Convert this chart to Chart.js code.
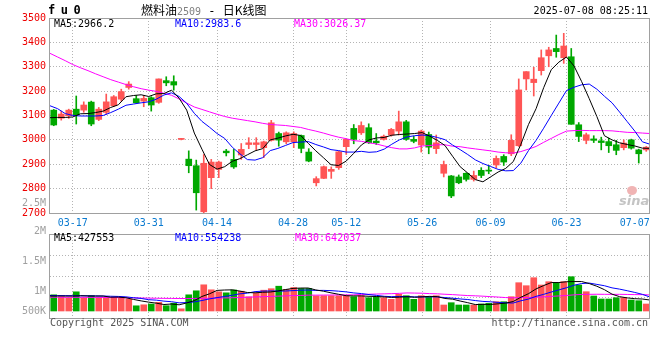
<!DOCTYPE html>
<html lang="zh-CN">
<head>
<meta charset="UTF-8" />
<title>燃料油2509 - 日K线图</title>
<style>
    body { margin: 0; background: #fff; }
    #wrap { position: relative; width: 660px; height: 360px; overflow: hidden; }
    canvas { position: absolute; left: 0; }
    #kline { top: 0; }
    #vol { top: 226px; }
    .t { position: absolute; font: 10px 'DejaVu Sans Mono', monospace; line-height: 12px; white-space: nowrap; z-index: 2; }
    .r { text-align: right; }
    .gray { color: #a0a0a0; }
</style>
</head>
<body>
<div id="wrap">
    <canvas id="kline" width="660" height="232"></canvas>
    <canvas id="vol" width="660" height="100"></canvas>

    <div class="t" style="left:48px;top:3px;font:bold 12px 'DejaVu Sans Mono',monospace;letter-spacing:5.5px;">fu0</div>
    <div class="t" style="left:141px;top:2px;font-size:12px;line-height:16px;">
        <span style="font-family:'Noto Sans CJK SC';">燃料油</span><span style="color:#808080;font-size:10px;">2509</span><span> - </span><span style="font-family:'Noto Sans CJK SC';">日K线图</span>
    </div>
    <div class="t r" style="right:12px;top:5px;">2025-07-08 08:25:11</div>

    <div class="t" style="left:54px;top:18px;color:#000;">MA5:2966.2</div>
    <div class="t" style="left:175px;top:18px;color:#0000ff;">MA10:2983.6</div>
    <div class="t" style="left:294px;top:18px;color:#ff00ff;">MA30:3026.37</div>

    <div class="t r gray" style="right:614px;top:197px;">2.5M</div>
    <div class="t r gray" style="right:614px;top:225px;">2M</div>
    <div class="t r gray" style="right:614px;top:255px;">1.5M</div>
    <div class="t r gray" style="right:614px;top:285px;">1M</div>
    <div class="t r gray" style="right:614px;top:305px;">500K</div>

    <div class="t" style="left:54px;top:232px;color:#000;">MA5:427553</div>
    <div class="t" style="left:175px;top:232px;color:#0000ff;">MA10:554238</div>
    <div class="t" style="left:295px;top:232px;color:#ff00ff;">MA30:642037</div>

    <div class="t" style="left:50px;top:317px;color:#555;">Copyright 2025 SINA.COM</div>
    <div class="t r" style="right:12px;top:317px;color:#555;">http://finance.sina.com.cn</div>

    <div style="position:absolute;left:627px;top:186px;width:10px;height:9px;border-radius:50%;background:#f0b4b4;z-index:1;"></div>
    <div class="t" style="left:619px;top:193px;font:italic bold 13px 'DejaVu Sans',sans-serif;color:#c4c4c4;z-index:1;">sina</div>
</div>

<script src="https://cdn.jsdelivr.net/npm/chart.js"></script>
<script>
    const dates = [
        "03-12", "03-13", "03-14", "03-17", "03-18", "03-19", "03-20", "03-21", "03-24", "03-25", "03-26", "03-27", "03-28", "03-31",
        "04-01", "04-02", "04-03", "04-07", "04-08", "04-09", "04-10", "04-11", "04-14", "04-15", "04-16", "04-17", "04-18", "04-21", "04-22", "04-23", "04-24", "04-25", "04-28", "04-29", "04-30",
        "05-06", "05-07", "05-08", "05-09", "05-12", "05-13", "05-14", "05-15", "05-16", "05-19", "05-20", "05-21", "05-22", "05-23", "05-26", "05-27", "05-28", "05-29", "05-30",
        "06-03", "06-04", "06-05", "06-06", "06-09", "06-10", "06-11", "06-12", "06-13", "06-16", "06-17", "06-18", "06-19", "06-20", "06-23", "06-24", "06-25", "06-26", "06-27", "06-30",
        "07-01", "07-02", "07-03", "07-04", "07-07", "07-08"
    ];
    const axisDates = ["03-17", "03-31", "04-14", "04-28", "05-12", "05-26", "06-09", "06-23", "07-07"];

    const open = [3122, 3089, 3099, 3126, 3122, 3155, 3084, 3113, 3140, 3167, 3215, 3169, 3159, 3173, 3154, 3243, 3239, 3002, 2921, 2894,
        2705, 2845, 2879, 2954, 2920, 2938, 2981, 2981, 2968, 2998, 3026, 2992, 2992, 3018, 2950, 2824, 2842, 2871, 2886, 2972,
        3047, 3029, 3050, 2995, 3002, 3020, 3036, 3074, 3002, 2979, 3022, 2964, 2863, 2852, 2848, 2863, 2838, 2875, 2875, 2897,
        2932, 2943, 2976, 3250, 3235, 3284, 3345, 3375, 3337, 3341, 3062, 2998, 3004, 2996, 2993, 2980, 2968, 3000, 2959, 2959];
    const high = [3125, 3118, 3126, 3180, 3156, 3159, 3133, 3188, 3182, 3208, 3239, 3182, 3182, 3177, 3250, 3259, 3263, 3006, 2955, 2917,
        2940, 2920, 2913, 2961, 2961, 2985, 3009, 3009, 2995, 3080, 3032, 3033, 3033, 3020, 2964, 2849, 2893, 2889, 2954, 3002,
        3063, 3074, 3066, 3026, 3020, 3047, 3118, 3080, 3015, 3040, 3032, 3020, 2913, 2854, 2856, 2865, 2872, 2886, 2895, 2934,
        2939, 3021, 3250, 3280, 3298, 3369, 3380, 3430, 3437, 3375, 3071, 3028, 3017, 3011, 3007, 2998, 3000, 3003, 2962, 2973];
    const low = [3058, 3081, 3088, 3065, 3113, 3058, 3079, 3105, 3136, 3159, 3208, 3150, 3136, 3118, 3150, 3222, 3204, 3000, 2865, 2712,
        2700, 2800, 2845, 2934, 2883, 2920, 2964, 2957, 2927, 2995, 2974, 2984, 2968, 2947, 2910, 2811, 2841, 2842, 2879, 2940,
        2984, 3022, 2985, 2981, 2999, 3015, 3020, 2998, 2988, 2950, 2943, 2944, 2848, 2763, 2820, 2831, 2831, 2845, 2861, 2886,
        2895, 2935, 2973, 3205, 3180, 3266, 3300, 3339, 3314, 3064, 2993, 2984, 2989, 2959, 2948, 2939, 2959, 2962, 2905, 2953];
    const close = [3061, 3106, 3122, 3102, 3143, 3065, 3126, 3156, 3177, 3198, 3229, 3152, 3170, 3143, 3250, 3234, 3225, 3005, 2894, 2783,
        2904, 2909, 2909, 2947, 2889, 2961, 2988, 2988, 2992, 3070, 2999, 3029, 3026, 2965, 2913, 2841, 2890, 2879, 2951, 3002,
        3002, 3059, 2988, 2988, 3015, 3043, 3074, 3002, 2994, 3036, 2970, 2988, 2899, 2770, 2824, 2838, 2854, 2854, 2872, 2924,
        2909, 2998, 3205, 3280, 3249, 3337, 3369, 3362, 3385, 3064, 3014, 3021, 2998, 2989, 2976, 2957, 2987, 2966, 2943, 2970];

    const ma5 = [3091, 3092, 3092, 3094, 3107, 3108, 3112, 3118, 3133, 3144, 3177, 3182, 3185, 3178, 3189, 3190, 3204, 3171, 3122, 3028,
        2962, 2899, 2880, 2890, 2912, 2923, 2939, 2955, 2964, 3000, 3007, 3016, 3023, 3018, 2986, 2955, 2927, 2898, 2895, 2913,
        2945, 2979, 3000, 3008, 3010, 3019, 3022, 3024, 3026, 3030, 3015, 2998, 2977, 2933, 2890, 2864, 2837, 2828, 2848, 2868,
        2883, 2911, 2982, 3063, 3128, 3214, 3288, 3319, 3340, 3303, 3239, 3169, 3096, 3017, 3000, 2988, 2981, 2975, 2966, 2965];
    const ma10 = [3140, 3128, 3108, 3100, 3098, 3098, 3098, 3100, 3112, 3126, 3142, 3147, 3152, 3156, 3167, 3184, 3193, 3178, 3150, 3109,
        3076, 3052, 3026, 3006, 2970, 2943, 2919, 2917, 2927, 2956, 2965, 2977, 2989, 2991, 2993, 2981, 2971, 2960, 2956, 2950,
        2950, 2953, 2949, 2951, 2962, 2982, 3000, 3012, 3017, 3020, 3017, 3010, 3001, 2979, 2960, 2940, 2918, 2903, 2891, 2879,
        2873, 2874, 2905, 2956, 2998, 3048, 3100, 3151, 3202, 3216, 3226, 3229, 3208, 3179, 3152, 3114, 3075, 3036, 2992, 2982];
    const ma30 = [3355, 3340, 3325, 3309, 3296, 3284, 3271, 3259, 3247, 3237, 3227, 3218, 3210, 3204, 3199, 3191, 3183, 3168, 3151, 3135,
        3125, 3115, 3105, 3096, 3089, 3084, 3079, 3074, 3068, 3063, 3061, 3059, 3055, 3051, 3043, 3036, 3028, 3019, 3011, 3005,
        2997, 2994, 2988, 2983, 2975, 2968, 2963, 2963, 2967, 2975, 2977, 2980, 2980, 2974, 2972, 2967, 2963, 2959, 2955, 2950,
        2947, 2946, 2952, 2962, 2973, 2990, 3006, 3022, 3036, 3038, 3039, 3038, 3038, 3038, 3037, 3034, 3031, 3030, 3028, 3026];

    const volume = [648000, 568000, 532000, 768000, 532000, 608000, 544000, 544000, 532000, 552000,
        480000, 208000, 248000, 280000, 348000, 212000, 312000, 88000, 648000, 808000,
        1048000, 848000, 768000, 728000, 840000, 792000, 568000, 712000, 832000, 892000,
        992000, 864000, 940000, 900000, 900000, 608000, 612000, 612000, 612000, 612000,
        572000, 612000, 532000, 572000, 532000, 468000, 668000, 612000, 468000, 612000,
        572000, 612000, 240000, 332000, 240000, 240000, 240000, 280000, 308000, 372000,
        372000, 572000, 1132000, 1012000, 1332000, 1040000, 1172000, 1132000, 1172000, 1372000,
        1040000, 772000, 600000, 480000, 480000, 532000, 532000, 440000, 412000, 280000];
    const volMa5 = [600000, 600000, 598000, 596000, 610000, 602000, 597000, 599000, 552000, 556000,
        530000, 463000, 404000, 354000, 313000, 259000, 280000, 248000, 322000, 414000,
        581000, 688000, 824000, 840000, 846000, 795000, 739000, 728000, 749000, 759000,
        799000, 858000, 904000, 918000, 919000, 842000, 792000, 726000, 669000, 611000,
        604000, 604000, 588000, 580000, 564000, 543000, 554000, 570000, 550000, 566000,
        586000, 575000, 501000, 474000, 399000, 333000, 258000, 266000, 262000, 288000,
        314000, 381000, 551000, 692000, 884000, 1018000, 1138000, 1138000, 1170000, 1178000,
        1178000, 1098000, 991000, 853000, 674000, 573000, 525000, 493000, 479000, 439000];
    const volMa10 = [620000, 618000, 615000, 612000, 610000, 608000, 604000, 598000, 590000, 583000,
        566000, 530000, 502000, 453000, 434000, 395000, 372000, 326000, 338000, 363000,
        420000, 484000, 536000, 581000, 630000, 688000, 714000, 776000, 794000, 803000,
        797000, 799000, 816000, 833000, 839000, 821000, 825000, 815000, 793000, 765000,
        723000, 698000, 657000, 624000, 588000, 574000, 579000, 579000, 565000, 565000,
        565000, 565000, 536000, 512000, 482000, 460000, 417000, 384000, 368000, 344000,
        324000, 320000, 409000, 477000, 586000, 666000, 759000, 844000, 931000, 1031000,
        1098000, 1118000, 1064000, 1011000, 926000, 875000, 811000, 742000, 666000, 557000];
    const volMa30 = [552000, 551000, 550000, 549000, 548000, 547000, 545000, 542000, 538000, 534000,
        530000, 525000, 520000, 515000, 510000, 506000, 503000, 500000, 500000, 502000,
        506000, 511000, 517000, 524000, 531000, 540000, 551000, 562000, 573000, 583000,
        594000, 604000, 618000, 622000, 635000, 635000, 637000, 639000, 642000, 644000,
        647000, 660000, 670000, 679000, 686000, 694000, 706000, 723000, 717000, 711000,
        695000, 687000, 670000, 656000, 636000, 618000, 607000, 593000, 575000, 558000,
        537000, 527000, 534000, 538000, 552000, 566000, 585000, 602000, 621000, 646000,
        662000, 667000, 670000, 667000, 665000, 667000, 662000, 656000, 654000, 643000];

    const RED = "#ff5555";
    const GREEN = "#00a800";
    const GRID = "#b4b4b4";
    const mono = { family: "'DejaVu Sans Mono', monospace", size: 10 };

    const colors = close.map((c, i) => c >= open[i] ? RED : GREEN);

    const framePlugin = {
        id: "frame",
        afterDraw(chart) {
            const { ctx, chartArea: a } = chart;
            ctx.save();
            ctx.strokeStyle = "#a0a0a0";
            ctx.lineWidth = 1;
            ctx.strokeRect(Math.round(a.left) - 0.5, Math.round(a.top) + 0.5, Math.round(a.width), Math.round(a.height));
            ctx.restore();
        }
    };

    function maLine(values, color) {
        return {
            type: "line",
            xAxisID: "xg",
            data: values.map((y, x) => ({ x, y })),
            borderColor: color,
            borderWidth: 1,
            pointRadius: 0,
            tension: 0,
            order: 0
        };
    }

    // linear axis for the date grid and the MA lines (Sina spaces these a bit wider than the candles)
    function dateGrid(showLabels) {
        return {
            type: "linear",
            position: "bottom",
            offset: false,
            min: 0,
            max: dates.length - 1,
            afterBuildTicks: s => {
                s.ticks = axisDates.map(d => ({ value: Math.min(dates.indexOf(d), s.max - 2) }));
            },
            ticks: {
                display: showLabels,
                autoSkip: false,
                maxRotation: 0,
                padding: 4,
                color: "#0a7ad0",
                font: mono,
                callback: (v, i) => axisDates[i]
            },
            grid: {
                offset: false,
                drawTicks: false,
                color: c => c.index === axisDates.length - 1 ? "rgba(0,0,0,0)" : GRID
            },
            border: { display: false, dash: [1, 2] },
            afterFit: s => { s.height = showLabels ? 19 : 0; }
        };
    }

    new Chart(document.getElementById("kline"), {
        type: "bar",
        data: {
            labels: dates,
            datasets: [
                maLine(ma5, "#000000"),
                maLine(ma10, "#0000ff"),
                maLine(ma30, "#ff00ff"),
                {
                    data: low.map((l, i) => [l, high[i]]),
                    backgroundColor: colors,
                    barThickness: 1,
                    grouped: false,
                    order: 1
                },
                {
                    data: open.map((o, i) => [Math.min(o, close[i]), Math.max(o, close[i])]),
                    backgroundColor: colors,
                    barThickness: 6,
                    minBarLength: 1,
                    grouped: false,
                    order: 1
                }
            ]
        },
        options: {
            responsive: false,
            animation: false,
            events: [],
            layout: { padding: { top: 18, right: 10, left: 0, bottom: 0 } },
            plugins: { legend: { display: false }, tooltip: { enabled: false } },
            scales: {
                x: { type: "category", display: false, offset: true },
                xg: dateGrid(true),
                y: {
                    min: 2700,
                    max: 3500,
                    ticks: { stepSize: 100, color: "#ee0000", font: mono, padding: 4, callback: v => String(v) },
                    grid: { color: GRID, drawTicks: false },
                    border: { display: false, dash: [1, 2] },
                    afterFit: s => { s.width = 50; }
                }
            }
        },
        plugins: [framePlugin]
    });

    new Chart(document.getElementById("vol"), {
        type: "bar",
        data: {
            labels: dates,
            datasets: [
                maLine(volMa5, "#000000"),
                maLine(volMa10, "#0000ff"),
                maLine(volMa30, "#ff00ff"),
                {
                    data: volume,
                    backgroundColor: colors,
                    barThickness: 6,
                    grouped: false,
                    order: 1
                }
            ]
        },
        options: {
            responsive: false,
            animation: false,
            events: [],
            layout: { padding: { top: 8, right: 10, left: 0, bottom: 8 } },
            plugins: { legend: { display: false }, tooltip: { enabled: false } },
            scales: {
                x: { type: "category", display: false, offset: true },
                xg: dateGrid(false),
                y: {
                    min: -280000,
                    max: 3080000,
                    afterBuildTicks: s => {
                        s.ticks = [0, 1, 2, 3, 4].map(k => ({ value: s.min + k * (s.max - s.min) / 4 }));
                    },
                    ticks: { display: false },
                    grid: { color: GRID, drawTicks: false },
                    border: { display: false, dash: [1, 2] },
                    afterFit: s => { s.width = 50; }
                }
            }
        },
        plugins: [framePlugin]
    });
</script>
</body>
</html>
